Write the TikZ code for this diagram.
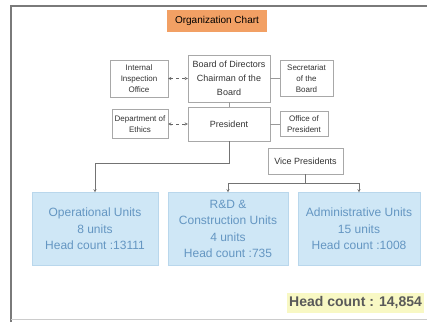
\documentclass[tikz,border=0pt]{standalone}
\usepackage{fontspec}
\setmainfont{Liberation Sans}
\usetikzlibrary{shapes.geometric, arrows}
\definecolor{chartorange}{HTML}{F2A064}
\definecolor{boxgray}{HTML}{A8A8A8}
\definecolor{unitfill}{HTML}{CFE7F6}
\definecolor{unitdraw}{HTML}{B9D7EC}
\definecolor{unittext}{HTML}{6496C2}
\definecolor{totalfill}{HTML}{F8F8C4}
\definecolor{framegray}{HTML}{7A7A7A}
\tikzstyle{heading} = [rectangle,
minimum width=100pt,
minimum height=22pt,
text centered,
fill=chartorange,
font=\fontsize{10}{11}\selectfont]
\tikzstyle{office} = [rectangle,
inner sep=1pt,
align=center,
draw=boxgray,
fill=white,
text=black!80,
font=\fontsize{8}{11}\selectfont]
\tikzstyle{chief} = [office,
minimum width=82pt,
font=\fontsize{9}{14}\selectfont]
\tikzstyle{unit} = [rectangle,
minimum height=73pt,
align=center,
draw=unitdraw,
fill=unitfill,
text=unittext,
font=\fontsize{12}{16.5}\selectfont]
\tikzstyle{total} = [rectangle,
minimum height=20pt,
inner xsep=2pt,
fill=totalfill,
text=black!65,
font=\bfseries\fontsize{14}{16}\selectfont]
\tikzstyle{arrow} = [thin, ->, >=stealth, draw=black!55]
\tikzstyle{dasharrow} = [thin, dashed, <->, >=stealth, draw=black!60]
\tikzstyle{link} = [thin, draw=black!40]

\begin{document}
\begin{tikzpicture}[x=1pt, y=-1pt]
			\useasboundingbox (0,0) rectangle (427,322);
			% page frame
			\draw[framegray, line width=2pt] (11,322) -- (11,6) -- (427,6);
			\draw[black!20, line width=1pt] (11,319) -- (427,319);

			\node (chart) [heading] at (217,21) {Organization Chart};
			\node (board) [chief, minimum height=47pt] at (229,78.5) {Board of Directors\\Chairman of the\\Board};
			\node (insp) [office, minimum width=58pt, minimum height=37pt, node distance=90pt, left of=board] {Internal\\Inspection\\Office};
			\node (secr) [office, minimum width=53pt, minimum height=36pt, node distance=77.5pt, right of=board] {Secretariat\\of the\\Board};
			\node (pres) [chief, minimum height=34pt, node distance=45.5pt, below of=board] {President};
			\node (ethics) [office, minimum width=56pt, minimum height=29pt, node distance=89pt, left of=pres] {Department of\\Ethics};
			\node (offpres) [office, minimum width=48pt, minimum height=25pt, node distance=75pt, right of=pres] {Office of\\President};
			\node (vp) [office, minimum width=75pt, minimum height=26pt, font=\fontsize{9}{10}\selectfont] at (305.5,161) {Vice Presidents};

			\node (rnd) [unit, minimum width=120pt] at (228,229) {R\&D \&\\Construction Units\\4 units\\Head count :735};
			\node (ops) [unit, minimum width=126pt, node distance=133pt, left of=rnd] {Operational Units\\8 units\\Head count :13111};
			\node (admin) [unit, minimum width=122pt, node distance=131pt, right of=rnd] {Administrative Units\\15 units\\Head count :1008};
			\node (sum) [total, anchor=west] at (287,303) {Head count : 14,854};

			\draw[dasharrow] (insp) -- (board);
			\draw[dasharrow] (ethics) -- (pres);
			\draw[link] (board) -- (secr)
						(pres) -- (offpres)
						(board) -- (pres);
			\draw[arrow] (pres.south) -- ++(0,22) -| (ops.north);
			\draw[arrow] (vp.south) -- ++(0,9) -| (rnd.north);
			\draw[arrow] (vp.south) -- ++(0,9) -| (admin.north);
		\end{tikzpicture}
\end{document}
